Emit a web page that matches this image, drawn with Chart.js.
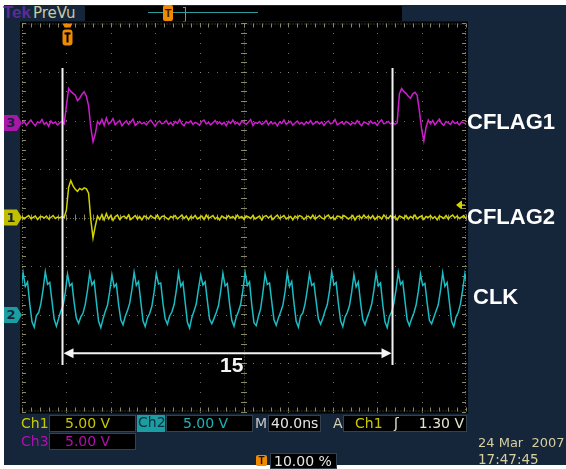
<!DOCTYPE html>
<html lang="en">
<head>
<meta charset="utf-8">
<title>CFLAG1 / CFLAG2 / CLK</title>
<script src="https://cdn.jsdelivr.net/npm/chart.js@4.4.1/dist/chart.umd.min.js"></script>
<style>
  html, body { margin: 0; padding: 0; background: #fff; }
  #scope { position: relative; width: 566px; height: 469px; overflow: hidden; }
  #panel { position: absolute; left: 4px; top: 5px; width: 562px; height: 460px; background: #15253a; }
  #plot { position: absolute; left: 0; top: 0; }
  .t { position: absolute; font: 14px/16px "DejaVu Sans", sans-serif; white-space: nowrap; }
  .box { position: absolute; background: #000; border: 1px solid #34424f; box-sizing: border-box;
         font: 14px/15px "DejaVu Sans", sans-serif; white-space: nowrap; }
</style>
</head>
<body>
<div id="scope">
  <div id="panel"></div>

  <!-- header -->
  <div class="t" style="left:3px;top:3px;font:bold 17px/19px 'Liberation Sans',Arial,sans-serif;color:#5b2c98">Tek</div>
  <div class="t" style="left:33px;top:4px;font:15px/18px 'DejaVu Sans',sans-serif;color:#c9c9a2">PreVu</div>
  <div class="box" style="left:85px;top:6px;width:317px;height:15px;border:none"></div>
  <div style="position:absolute;left:148px;top:12px;width:110px;height:1px;background:#2a9c9c"></div>
  <div style="position:absolute;left:183px;top:7px;width:2px;height:13px;border:1px solid #8a8a8a;border-left:none"></div>
  <div style="position:absolute;left:163px;top:5px;width:10px;height:16px;background:#f08a00;border-radius:2px;color:#3a1a00;font:bold 11px/17px 'Liberation Sans',sans-serif;text-align:center">T</div>

  <canvas id="plot" width="566" height="469"></canvas>

  <!-- status bar -->
  <div class="t" style="left:21px;top:415px;color:#c8c800">Ch1</div>
  <div class="box" style="left:49px;top:415px;width:87px;height:17px;padding-left:15px;color:#c8c800">5.00 V</div>
  <div class="box" style="left:137px;top:415px;width:28px;height:17px;padding-left:1px;background:#1b9ea2;border:none;color:#0b2f3c">Ch2</div>
  <div class="box" style="left:166px;top:415px;width:87px;height:17px;padding-left:16px;color:#1fb2b6">5.00 V</div>
  <div class="t" style="left:255px;top:415px;color:#c8c8c8">M</div>
  <div class="box" style="left:268px;top:415px;width:53px;height:17px;padding-left:2px;color:#e6e6e6">40.0ns</div>
  <div class="t" style="left:333px;top:415px;color:#d4d0b0">A</div>
  <div class="box" style="left:343px;top:415px;width:124px;height:17px">
    <span style="position:absolute;left:11px;color:#c8c800">Ch1</span>
    <span style="position:absolute;left:50px;color:#e6e6d0">ʃ</span>
    <span style="position:absolute;right:2px;color:#e6e6d0">1.30 V</span>
  </div>
  <div class="t" style="left:21px;top:433px;color:#b010b0">Ch3</div>
  <div class="box" style="left:49px;top:433px;width:87px;height:17px;padding-left:15px;color:#b010b0">5.00 V</div>
  <div style="position:absolute;left:256px;top:455px;width:11px;height:11px;background:#f08a00;border-radius:2px;color:#2a1400;font:bold 10px/11px 'Liberation Sans',sans-serif;text-align:center">T</div>
  <div class="box" style="left:270px;top:453px;width:67px;height:16px;padding-left:3px;color:#e6e6e6">10.00 %</div>
  <div class="t" style="left:478px;top:435px;font-size:13px;color:#d6cfa0">24 Mar&nbsp;&nbsp;2007</div>
  <div class="t" style="left:478px;top:451px;font-size:13.5px;color:#d6cfa0">17:47:45</div>
</div>

<script>
// horizontal: 40 ns/div, 10 div ; vertical: 8 div (values in divisions)
const timeMin = 0, timeMax = 400;
const divMin = -4, divMax = 4;
const sampleStepNs = 2;

// Ch3 (CFLAG1), samples from t = 0 ns
const ch3Start = 0;
const ch3Values = [
  1.93, 1.98, 1.90, 1.96, 2.01, 1.94, 1.89, 1.97, 1.95, 2.02,
  1.92, 1.96, 1.88, 1.99, 1.94, 1.97, 1.91, 1.95, 1.98, 1.93,
  2.30, 2.66, 2.60, 2.56, 2.52, 2.41, 2.46, 2.54, 2.59, 2.50,
  2.30, 1.85, 1.56, 1.72, 1.98, 1.92,
  2.02, 1.90, 2.05, 1.93, 1.97, 2.04, 1.91, 1.96, 2.00, 1.89,
  1.95, 1.99, 1.92, 1.97, 2.03, 1.90, 1.94, 1.98, 1.93, 1.96,
  1.91, 1.97, 2.01, 1.94, 1.88, 1.96, 1.99, 1.93, 1.95, 2.00,
  1.92, 1.96, 1.90, 1.98, 1.94, 2.02, 1.93, 1.89, 1.97, 1.95,
  1.99, 1.92, 1.96, 1.94, 1.90, 1.98, 2.01, 1.93, 1.96, 1.91,
  1.95, 2.00, 1.93, 1.97, 1.92, 1.96, 1.89, 1.98, 1.94, 2.01,
  1.93, 1.96, 1.91, 1.99, 1.95, 1.92, 1.97, 2.02, 1.90, 1.96,
  1.94, 1.98, 1.92, 1.95, 2.00, 1.91, 1.97, 1.93, 1.96, 1.89,
  1.97, 1.94, 2.01, 1.92, 1.96, 1.98, 1.90, 1.95, 1.99, 1.93,
  1.96, 1.91, 1.97, 1.94, 2.00, 1.92, 1.95, 1.98, 1.93, 1.97,
  1.90, 1.96, 1.99, 1.93, 1.95, 2.02, 1.91, 1.94, 1.97, 1.92,
  1.98, 1.95, 1.91, 1.96, 1.93, 2.00, 1.94, 1.89, 1.97, 1.95,
  1.92, 1.99, 1.94, 1.96, 1.90, 1.97, 2.01, 1.93, 1.95, 1.98,
  1.93, 1.96, 1.92, 1.95,
  2.55, 2.66, 2.60, 2.56, 2.50, 2.46, 2.55, 2.58, 2.52, 2.20,
  1.82, 1.58, 1.86, 2.01,
  1.93, 2.00, 1.91, 1.97, 2.03, 1.94, 1.90, 1.98, 1.95, 1.92,
  1.99, 1.94, 1.96, 1.91, 1.97, 1.95, 1.93
];

// Ch1 (CFLAG2), samples from t = 0 ns
const ch1Start = 0;
const ch1Values = [
  0.02, -0.03, 0.01, 0.04, -0.02, 0.00, 0.03, -0.04, 0.01, 0.02,
  -0.01, 0.03, -0.03, 0.00, 0.04, -0.02, 0.01, -0.01, 0.02, 0.00,
  0.15, 0.62, 0.76, 0.65, 0.58, 0.54, 0.60, 0.57, 0.61, 0.59,
  0.50, -0.05, -0.42, -0.18, 0.03, -0.04,
  0.06, -0.05, 0.08, -0.03, 0.04, -0.06, 0.02, 0.05, -0.04, 0.01,
  0.03, -0.02, 0.05, -0.04, 0.00, 0.04, -0.03, 0.02, -0.05, 0.03,
  0.01, -0.03, 0.04, 0.00, -0.02, 0.05, -0.04, 0.02, 0.03, -0.01,
  -0.04, 0.02, 0.00, 0.04, -0.03, 0.01, 0.05, -0.02, 0.03, -0.05,
  0.02, -0.01, 0.04, -0.03, 0.00, 0.03, -0.04, 0.05, -0.02, 0.01,
  0.04, -0.03, 0.01, -0.05, 0.03, 0.00, -0.02, 0.04, -0.01, 0.02,
  -0.03, 0.05, -0.01, 0.02, -0.04, 0.03, 0.01, -0.02, 0.04, -0.03,
  0.00, 0.03, -0.05, 0.02, 0.04, -0.01, 0.03, -0.04, 0.01, 0.05,
  -0.02, 0.01, 0.04, -0.03, 0.00, 0.02, -0.05, 0.03, -0.01, 0.04,
  0.02, -0.04, 0.01, 0.03, -0.02, 0.05, -0.03, 0.00, 0.04, -0.01,
  -0.03, 0.02, 0.05, -0.02, 0.01, -0.04, 0.03, 0.02, -0.01, 0.04,
  0.01, -0.03, 0.00, 0.04, -0.05, 0.02, 0.03, -0.02, 0.05, -0.01,
  0.03, -0.02, 0.04, -0.04, 0.01, 0.02, -0.03, 0.05, 0.00, -0.02,
  0.04, -0.01, 0.02, -0.05, 0.03, 0.01, -0.02, 0.04, -0.03, 0.02,
  -0.01, 0.05, -0.03, 0.01, 0.03, -0.04, 0.02, 0.00, 0.04, -0.02,
  0.02, -0.05, 0.03, 0.01, -0.02, 0.04, -0.03, 0.02, 0.05, -0.01,
  0.03, -0.02, 0.01, 0.04, -0.03
];

// Ch2 (CLK), samples from t = -1 ns
const clkStart = -1;
const clkValues = [
  -1.50,
  -1.14, -1.42, -1.33, -1.78, -2.15, -2.26, -2.02, -1.96, -1.78, -1.48,
  -1.12, -1.38, -1.34, -1.72, -2.10, -2.24, -2.08, -1.93, -1.82, -1.55,
  -1.17, -1.41, -1.36, -1.76, -2.08, -2.18, -2.05, -1.97, -1.79, -1.50,
  -1.15, -1.39, -1.31, -1.74, -2.14, -2.27, -2.09, -1.94, -1.81, -1.53,
  -1.18, -1.43, -1.37, -1.79, -2.11, -2.21, -2.04, -1.92, -1.77, -1.49,
  -1.13, -1.40, -1.32, -1.73, -2.13, -2.25, -2.07, -1.98, -1.83, -1.54,
  -1.16, -1.37, -1.35, -1.77, -2.09, -2.20, -2.03, -1.95, -1.80, -1.51,
  -1.14, -1.42, -1.34, -1.75, -2.16, -2.28, -2.06, -1.93, -1.78, -1.47,
  -1.19, -1.39, -1.33, -1.72, -2.10, -2.19, -2.08, -1.96, -1.82, -1.52,
  -1.15, -1.41, -1.36, -1.78, -2.12, -2.24, -2.05, -1.94, -1.79, -1.50,
  -1.13, -1.40, -1.33, -1.80, -2.17, -2.23, -2.04, -1.88, -1.55,
  -1.17, -1.38, -1.35, -1.74, -2.11, -2.22, -2.07, -1.95, -1.81, -1.53,
  -1.14, -1.42, -1.32, -1.76, -2.14, -2.26, -2.03, -1.97, -1.78, -1.49,
  -1.16, -1.40, -1.36, -1.73, -2.09, -2.20, -2.08, -1.93, -1.80, -1.52,
  -1.12, -1.39, -1.34, -1.77, -2.13, -2.25, -2.05, -1.96, -1.82, -1.54,
  -1.18, -1.43, -1.33, -1.75, -2.10, -2.21, -2.06, -1.94, -1.79, -1.50,
  -1.15, -1.41, -1.35, -1.79, -2.15, -2.27, -2.04, -1.95, -1.77, -1.48,
  -1.13, -1.38, -1.32, -1.72, -2.11, -2.23, -2.09, -1.97, -1.81, -1.53,
  -1.17, -1.40, -1.36, -1.76, -2.12, -2.19, -2.06, -1.93, -1.80, -1.51,
  -1.14, -1.42, -1.34, -1.74, -2.14, -2.25, -2.05, -1.96, -1.78, -1.49,
  -1.16, -1.40
];

const traceNames = ['CFLAG1', 'CFLAG2', 'CLK'];
const channelNumbers = ['3', '1', '2'];
const groundLevels = [1.95, 0.0, -2.01];   // channel ground markers, in div
const labelLevels = [1.94, 0.0, -1.66];    // where the names sit, in div
const cursorTimes = [36.5, 333.8];          // ns
const cursorTop = 3.08, cursorBottom = -3.04, arrowLevel = -2.80;
const cursorCountText = '15';
const cursorTextTime = 189, cursorTextLevel = -3.07;
const triggerTime = 41;
const triggerLevel = 0.26;

const traceColors = ['#cc1ccc', '#d2d200', '#1cbcc4'];
const markerColors = ['#a818a8', '#c0c000', '#1a9ea2'];

function toPoints(start, values) {
  return values.map((v, i) => ({ x: start + i * sampleStepNs, y: v }));
}

const graticule = {
  id: 'graticule',
  beforeDatasetsDraw(chart) {
    const { ctx, chartArea: a, scales: { x, y } } = chart;
    ctx.save();
    ctx.fillStyle = '#000';
    ctx.fillRect(a.left - 2, a.top - 2, a.width + 4, a.height + 4);

    const xc = x.getPixelForValue(200), yc = y.getPixelForValue(0);
    // dotted division lines
    ctx.fillStyle = 'rgba(150,150,120,0.75)';
    for (let d = 40; d < 400; d += 40) {
      if (d === 200) continue;
      const px = Math.round(x.getPixelForValue(d));
      for (let m = -4; m <= 4.001; m += 0.2) {
        ctx.fillRect(px, Math.round(y.getPixelForValue(m)), 1, 1);
      }
    }
    for (let d = -3; d <= 3; d++) {
      if (d === 0) continue;
      const py = Math.round(y.getPixelForValue(d));
      for (let m = 0; m <= 400; m += 8) {
        ctx.fillRect(Math.round(x.getPixelForValue(m)), py, 1, 1);
      }
    }
    // centre cross + border with minor ticks
    ctx.strokeStyle = 'rgba(130,130,100,0.8)';
    ctx.lineWidth = 1;
    ctx.setLineDash([1, 2]);
    ctx.beginPath();
    ctx.moveTo(Math.round(xc) + 0.5, a.top); ctx.lineTo(Math.round(xc) + 0.5, a.bottom);
    ctx.moveTo(a.left, Math.round(yc) + 0.5); ctx.lineTo(a.right, Math.round(yc) + 0.5);
    ctx.rect(a.left + 0.5, a.top + 0.5, a.width - 1, a.height - 1);
    ctx.stroke();
    ctx.setLineDash([]);
    ctx.strokeStyle = 'rgba(160,160,120,0.85)';
    ctx.beginPath();
    for (let m = -4; m <= 4.001; m += 0.2) {
      const py = Math.round(y.getPixelForValue(m)) + 0.5;
      ctx.moveTo(xc - 3, py); ctx.lineTo(xc + 3, py);
      ctx.moveTo(a.left, py); ctx.lineTo(a.left + 4, py);
      ctx.moveTo(a.right - 4, py); ctx.lineTo(a.right, py);
    }
    for (let m = 0; m <= 400; m += 8) {
      const px = Math.round(x.getPixelForValue(m)) + 0.5;
      ctx.moveTo(px, yc - 3); ctx.lineTo(px, yc + 3);
      ctx.moveTo(px, a.top); ctx.lineTo(px, a.top + 4);
      ctx.moveTo(px, a.bottom - 4); ctx.lineTo(px, a.bottom);
    }
    ctx.stroke();
    ctx.restore();
  }
};

const overlay = {
  id: 'overlay',
  afterDatasetsDraw(chart) {
    const { ctx, chartArea: a, scales: { x, y } } = chart;
    ctx.save();

    // cursors and arrow
    const cx = cursorTimes.map(t => x.getPixelForValue(t));
    const yt = y.getPixelForValue(cursorTop), yb = y.getPixelForValue(cursorBottom);
    const ya = y.getPixelForValue(arrowLevel);
    ctx.strokeStyle = '#f4f4f4';
    ctx.fillStyle = '#f4f4f4';
    ctx.lineWidth = 2;
    ctx.beginPath();
    cx.forEach(px => { ctx.moveTo(px, yt); ctx.lineTo(px, yb); });
    ctx.moveTo(cx[0] + 8, ya); ctx.lineTo(cx[1] - 8, ya);
    ctx.stroke();
    ctx.beginPath();
    ctx.moveTo(cx[0] + 1, ya); ctx.lineTo(cx[0] + 11, ya - 5); ctx.lineTo(cx[0] + 11, ya + 5); ctx.closePath();
    ctx.moveTo(cx[1] - 1, ya); ctx.lineTo(cx[1] - 11, ya - 5); ctx.lineTo(cx[1] - 11, ya + 5); ctx.closePath();
    ctx.fill();
    ctx.font = 'bold 21px "Liberation Sans", Arial, sans-serif';
    ctx.textAlign = 'center';
    ctx.textBaseline = 'middle';
    ctx.fillText(cursorCountText, x.getPixelForValue(cursorTextTime), y.getPixelForValue(cursorTextLevel));

    // trigger position marker
    const tx = x.getPixelForValue(triggerTime);
    ctx.fillStyle = '#f08a00';
    ctx.beginPath();
    ctx.moveTo(tx - 5, a.top); ctx.lineTo(tx + 5, a.top); ctx.lineTo(tx + 3, a.top + 4); ctx.lineTo(tx - 3, a.top + 4);
    ctx.closePath(); ctx.fill();
    ctx.beginPath();
    ctx.roundRect(tx - 5, a.top + 6, 10, 16, 3);
    ctx.fill();
    ctx.fillStyle = '#000';
    ctx.fillRect(tx - 3, a.top + 9, 6, 2);
    ctx.fillRect(tx - 1, a.top + 9, 2, 10);

    // trigger level arrow
    const ty = y.getPixelForValue(triggerLevel);
    ctx.fillStyle = '#d2d200';
    ctx.beginPath();
    ctx.moveTo(a.right - 10, ty); ctx.lineTo(a.right - 5, ty - 4); ctx.lineTo(a.right - 5, ty + 4); ctx.closePath();
    ctx.fill();
    ctx.fillRect(a.right - 5, ty - 0.5, 4, 1.5);
    ctx.fillRect(a.right - 5, ty - 4, 1, 8);

    // channel ground markers
    ctx.font = 'bold 13px "DejaVu Sans", sans-serif';
    ctx.textAlign = 'center';
    groundLevels.forEach((lv, i) => {
      const py = y.getPixelForValue(lv);
      const x0 = 4, x1 = a.left;
      ctx.fillStyle = markerColors[i];
      ctx.beginPath();
      ctx.moveTo(x0, py - 8); ctx.lineTo(x1 - 5, py - 8); ctx.lineTo(x1, py);
      ctx.lineTo(x1 - 5, py + 8); ctx.lineTo(x0, py + 8); ctx.closePath();
      ctx.fill();
      ctx.fillStyle = '#14223a';
      ctx.fillText(channelNumbers[i], x0 + 7, py + 1);
    });

    // trace names
    ctx.font = 'bold 22px "Liberation Sans", Arial, sans-serif';
    ctx.textAlign = 'left';
    ctx.fillStyle = '#ffffff';
    const nameOffsets = [1, 1, 7];
    traceNames.forEach((name, i) => {
      ctx.fillText(name, a.right + nameOffsets[i], y.getPixelForValue(labelLevels[i]));
    });
    ctx.restore();
  }
};

new Chart(document.getElementById('plot'), {
  type: 'line',
  data: {
    datasets: [
      { label: traceNames[0], data: toPoints(ch3Start, ch3Values), borderColor: traceColors[0] },
      { label: traceNames[1], data: toPoints(ch1Start, ch1Values), borderColor: traceColors[1] },
      { label: traceNames[2], data: toPoints(clkStart, clkValues), borderColor: traceColors[2] }
    ]
  },
  options: {
    responsive: false,
    animation: false,
    layout: { padding: { left: 22, top: 23.5, right: 100, bottom: 57.5 } },
    elements: {
      line: { borderWidth: 1.5, tension: 0 },
      point: { radius: 0 }
    },
    scales: {
      x: { type: 'linear', min: timeMin, max: timeMax, display: false },
      y: { type: 'linear', min: divMin, max: divMax, display: false }
    },
    plugins: { legend: { display: false }, tooltip: { enabled: false } }
  },
  plugins: [graticule, overlay]
});
</script>
</body>
</html>
